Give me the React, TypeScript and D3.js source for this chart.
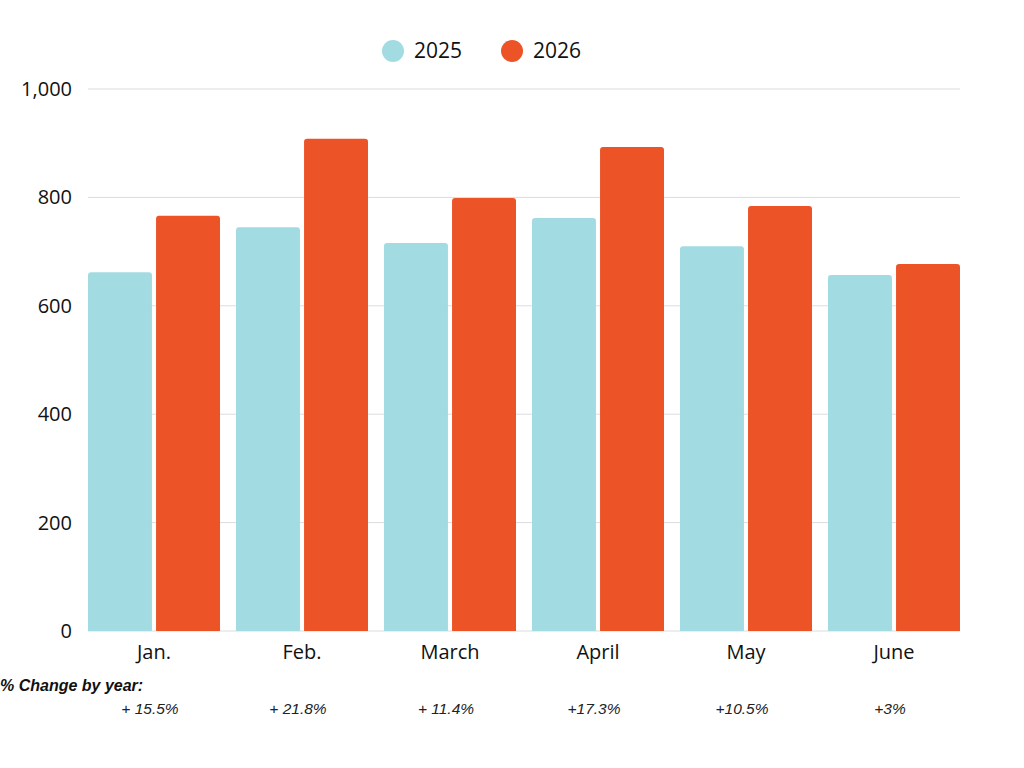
import React, { useEffect, useRef } from 'react';
import * as d3 from 'd3';

const months = ['Jan.', 'Feb.', 'March', 'April', 'May', 'June'];
const series = ['2025', '2026'];
const values2025 = [662, 745, 716, 762, 710, 657];
const values2026 = [766, 908, 799, 893, 784, 677];
const changeLabels = ['+ 15.5%', '+ 21.8%', '+ 11.4%', '+17.3%', '+10.5%', '+3%'];
const yTicks = [0, 200, 400, 600, 800, 1000];
const colors = ['#a3dbe2', '#ec5428'];

const App: React.FC = () => {
  const ref = useRef<SVGSVGElement>(null);

  useEffect(() => {
    if (!ref.current) return;
    const svg = d3.select(ref.current);
    svg.selectAll('*').remove();

    const left = 88, right = 960, top = 89, bottom = 631;
    const font = '"Open Sans", sans-serif';
    const sans = '"Liberation Sans", Arial, sans-serif';

    const x = d3.scaleBand<string>().domain(months).range([left, right]).paddingInner(0.108).paddingOuter(0);
    const x1 = d3.scaleBand<string>().domain(series).range([0, x.bandwidth()]).paddingInner(0.06);
    const y = d3.scaleLinear().domain([0, 1000]).range([bottom, top]);

    // grid
    svg.append('g').selectAll('line').data(yTicks).enter().append('line')
      .attr('x1', left).attr('x2', right)
      .attr('y1', d => y(d)).attr('y2', d => y(d))
      .attr('stroke', '#dcdcdc').attr('stroke-width', 1);

    // y labels
    svg.append('g').selectAll('text').data(yTicks).enter().append('text')
      .attr('x', 72).attr('y', d => y(d)).attr('dy', '0.35em')
      .attr('text-anchor', 'end').attr('font-family', font).attr('font-size', 20).attr('fill', '#111')
      .text(d => d3.format(',')(d));

    const data = months.map((m, i) => ({ m, vals: [values2025[i], values2026[i]] }));
    const r = 3;
    const barPath = (x0: number, w: number, y0: number) =>
      `M${x0},${bottom}V${y0 + r}Q${x0},${y0} ${x0 + r},${y0}H${x0 + w - r}Q${x0 + w},${y0} ${x0 + w},${y0 + r}V${bottom}Z`;

    const groups = svg.append('g').selectAll('g').data(data).enter().append('g')
      .attr('transform', d => `translate(${x(d.m)},0)`);
    groups.selectAll('path').data(d => d.vals.map((v, j) => ({ v, s: series[j], j }))).enter().append('path')
      .attr('d', d => barPath(x1(d.s)!, x1.bandwidth(), y(d.v)))
      .attr('fill', d => colors[d.j]);

    // month labels
    svg.append('g').selectAll('text').data(months).enter().append('text')
      .attr('x', d => x(d)! + x.bandwidth() / 2).attr('y', 659)
      .attr('text-anchor', 'middle').attr('font-family', font).attr('font-size', 20).attr('fill', '#111')
      .text(d => d);

    // legend
    const legend = svg.append('g');
    series.forEach((s, i) => {
      const lx = 393 + i * 119;
      legend.append('circle').attr('cx', lx).attr('cy', 51).attr('r', 11).attr('fill', colors[i]);
      legend.append('text').attr('x', lx + 21).attr('y', 51).attr('dy', '0.35em')
        .attr('font-family', font).attr('font-size', 21).attr('fill', '#111').text(s);
    });

    // % change
    svg.append('text').attr('x', 0).attr('y', 691)
      .attr('font-family', sans).attr('font-size', 16)
      .attr('font-weight', 'bold').attr('font-style', 'italic').attr('fill', '#111')
      .text('% Change by year:');
    svg.append('g').selectAll('text').data(changeLabels).enter().append('text')
      .attr('x', (d, i) => x(months[i])! + x.bandwidth() / 2 - 4).attr('y', 714)
      .attr('text-anchor', 'middle').attr('font-family', sans)
      .attr('font-size', 15.5).attr('font-style', 'italic').attr('fill', '#222')
      .text(d => d);
  }, []);

  return (
    <svg ref={ref} width={1024} height={768}
      style={{ position: 'absolute', left: 0, top: 0, background: '#fff', display: 'block' }} />
  );
};

export default App;
